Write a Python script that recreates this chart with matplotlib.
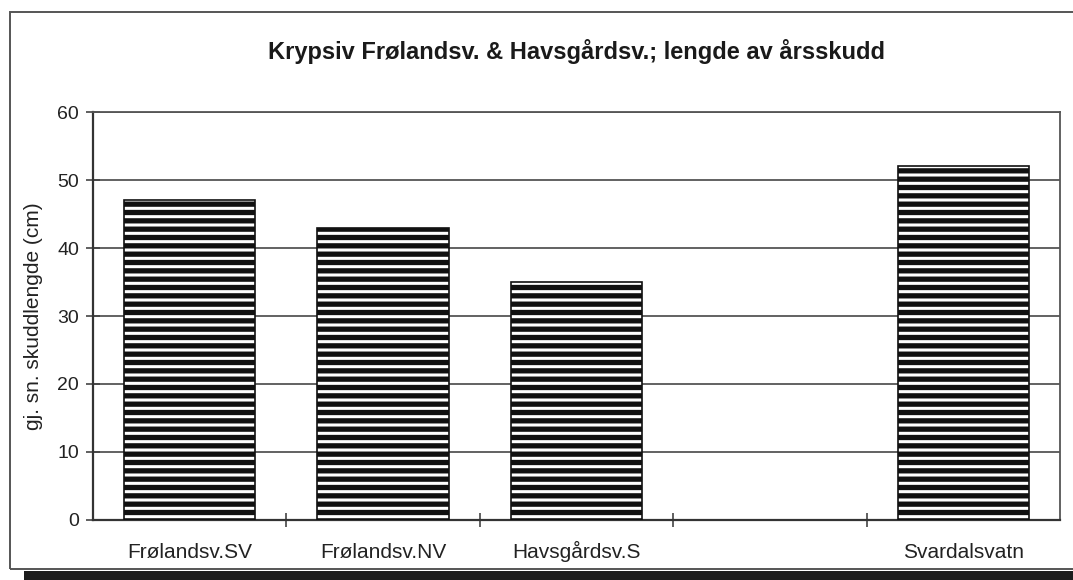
import matplotlib
matplotlib.use("Agg")
import matplotlib.pyplot as plt
from matplotlib.patches import Rectangle

# data (the 4th category is empty in the original)
categories = ["Frølandsv.SV", "Frølandsv.NV", "Havsgårdsv.S", "", "Svardalsvatn"]
values = [47, 43, 35, None, 52]
yticks = [0, 10, 20, 30, 40, 50, 60]

title = "Krypsiv Frølandsv. & Havsgårdsv.; lengde av årsskudd"
ylabel = "gj. sn. skuddlengde (cm)"

plt.rcParams["font.family"] = ["Liberation Sans", "DejaVu Sans"]
plt.rcParams["hatch.linewidth"] = 3.8
plt.rcParams["hatch.color"] = "#111111"

W, H = 1073, 580
fig = plt.figure(figsize=(W / 100, H / 100), dpi=100, facecolor="white")

# outer chart frame + scan shadow
fig.add_artist(Rectangle((10 / W, 1 - 569 / H), 1.2, (569 - 12) / H,
                         transform=fig.transFigure, facecolor="none",
                         edgecolor="#555555", linewidth=1.4))
fig.add_artist(Rectangle((24 / W, 0), 1.0, (580 - 571) / H,
                         transform=fig.transFigure, facecolor="#1c1c1c",
                         edgecolor="none"))

ax = fig.add_axes([93 / W, 1 - 520 / H, (1060 - 93) / W, (520 - 112) / H])
ax.set_facecolor("white")

x = list(range(len(categories)))
bx = [i for i, v in zip(x, values) if v is not None]
bv = [v for v in values if v is not None]
ax.bar(bx, bv, width=0.68, color="white", edgecolor="#111111",
       linewidth=1.2, hatch="--", zorder=3)

ax.set_xlim(-0.5, len(categories) - 0.5)
ax.set_ylim(0, 60)
ax.set_yticks(yticks)
ax.yaxis.grid(True, color="#555555", linewidth=1.3, zorder=0)

ax.set_xticks(x)
ax.set_xticklabels(categories, fontsize=15, color="#222222")
for lbl in ax.get_xticklabels():
    lbl.set_verticalalignment("baseline")
ax.set_xticks([i + 0.5 for i in x[:-1]], minor=True)
ax.tick_params(axis="x", which="major", length=0, pad=27)
ax.tick_params(axis="x", which="minor", direction="inout", length=10,
               width=1.2, color="#444444")
ax.tick_params(axis="y", direction="inout", length=10, width=1.2,
               color="#444444", labelsize=14, labelcolor="#222222", pad=5)

for side in ["top", "right"]:
    ax.spines[side].set_color("#555555")
    ax.spines[side].set_linewidth(1.3)
for side in ["left", "bottom"]:
    ax.spines[side].set_color("#333333")
    ax.spines[side].set_linewidth(1.6)

ax.set_ylabel(ylabel, fontsize=15, color="#222222")
ax.yaxis.set_label_coords(-0.052, 0.5)

fig.text((93 + 1060) / 2 / W, 1 - 52 / H, title, ha="center", va="center",
         fontsize=17, fontweight="bold", color="#1a1a1a")

fig.savefig("out.png", dpi=100, facecolor="white")
